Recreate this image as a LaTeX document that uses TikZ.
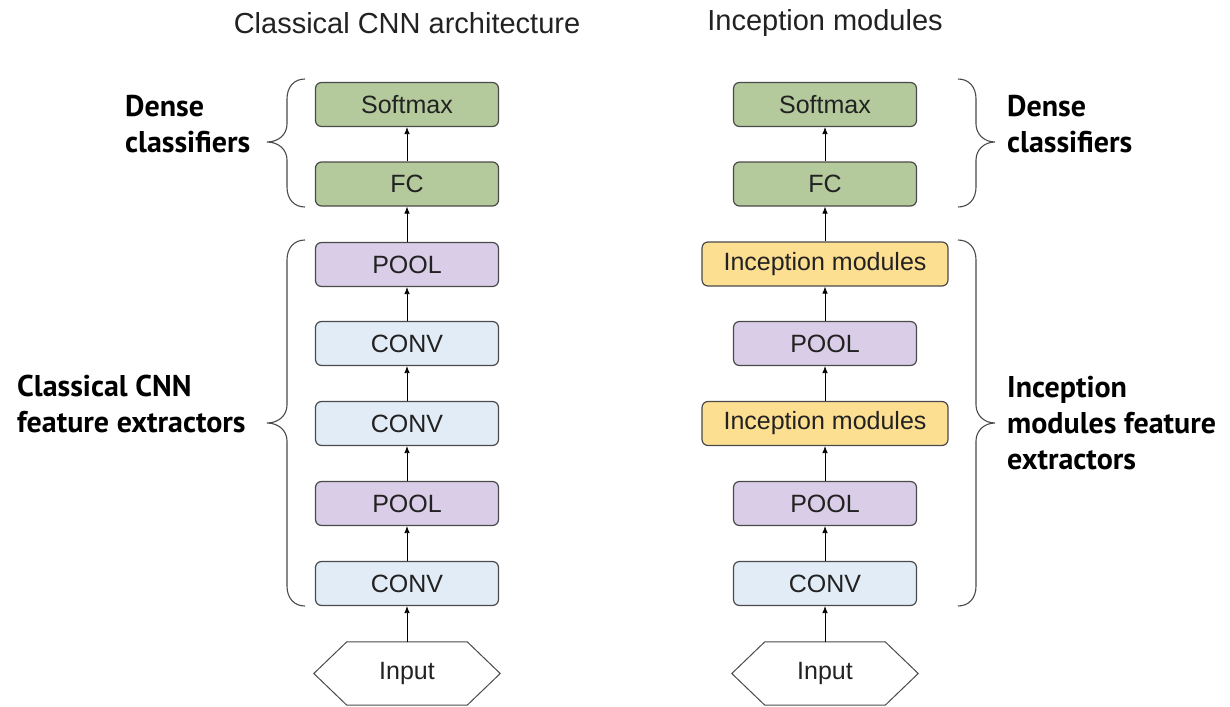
\documentclass[tikz,border=0pt]{standalone}
\usepackage{fontspec}
\setmainfont{Liberation Sans}
\newfontfamily\labfont{PT Sans}
\usetikzlibrary{arrows.meta,calc}
\definecolor{gfill}{HTML}{B4C99C}
\definecolor{pfill}{HTML}{D9CDE7}
\definecolor{bfill}{HTML}{E2ECF6}
\definecolor{yfill}{HTML}{FDDF92}
\definecolor{edge}{HTML}{4A4A4A}
\definecolor{txt}{HTML}{222222}
\tikzset{
  layer/.style={draw=edge,line width=1.2pt,rounded corners=6pt,minimum width=183pt,minimum height=44pt,inner sep=0pt,font=\fontsize{25}{28}\selectfont,text=txt},
  wide/.style={layer,minimum width=246pt},
  green/.style={layer,fill=gfill},
  purple/.style={layer,fill=pfill},
  blue/.style={layer,fill=bfill},
  yellow/.style={wide,fill=yfill},
  flow/.style={-{Latex[length=7pt,width=5.5pt]},line width=0.8pt,black},
  grp/.style={line width=1.1pt,draw=edge},
  lab/.style={font=\labfont\bfseries\fontsize{30}{36}\selectfont,align=left,text=black,inner sep=0pt},
  ttl/.style={font=\fontsize{29}{32}\selectfont,text=txt},
  inp/.style={minimum width=120pt,minimum height=63pt,inner sep=0pt,font=\fontsize{25}{28}\selectfont,text=txt}
}
\begin{document}
\begin{tikzpicture}[x=1pt,y=-1pt]
\useasboundingbox[fill=white] (0,0) rectangle (1230,706);
% titles
\node[ttl] (t1) at (407,23) {Classical CNN architecture};
\node[ttl] (t2) at (825,23) {Inception modules};
% left column
\node[green]  (ls) at (407,104.5) {Softmax};
\node[green]  (lf) at (407,184) {FC};
\node[purple] (lp2) at (407,264.5) {POOL};
\node[blue]   (lc3) at (407,343.5) {CONV};
\node[blue]   (lc2) at (407,423.5) {CONV};
\node[purple] (lp1) at (407,503.5) {POOL};
\node[blue]   (lc1) at (407,583.5) {CONV};
\node[inp]    (li) at (407,673.5) {Input};
\draw[edge,line width=1pt] (li.north west) -- (li.north east) -- ($(li.east)+(33,0)$) -- (li.south east) -- (li.south west) -- ($(li.west)-(33,0)$) -- cycle;
\draw[flow] (li.north) -- (lc1.south);
\draw[flow] (lc1.north) -- (lp1.south);
\draw[flow] (lp1.north) -- (lc2.south);
\draw[flow] (lc2.north) -- (lc3.south);
\draw[flow] (lc3.north) -- (lp2.south);
\draw[flow] (lp2.north) -- (lf.south);
\draw[flow] (lf.north) -- (ls.south);
% right column
\node[green]  (rs) at (825,104.5) {Softmax};
\node[green]  (rf) at (825,184) {FC};
\node[yellow] (ri2) at (825,264) {Inception modules};
\node[purple] (rp2) at (825,343.5) {POOL};
\node[yellow] (ri1) at (825,423.5) {Inception modules};
\node[purple] (rp1) at (825,503.5) {POOL};
\node[blue]   (rc1) at (825,583.5) {CONV};
\node[inp]    (ri) at (825,673.5) {Input};
\draw[edge,line width=1pt] (ri.north west) -- (ri.north east) -- ($(ri.east)+(33,0)$) -- (ri.south east) -- (ri.south west) -- ($(ri.west)-(33,0)$) -- cycle;
\draw[flow] (ri.north) -- (rc1.south);
\draw[flow] (rc1.north) -- (rp1.south);
\draw[flow] (rp1.north) -- (ri1.south);
\draw[flow] (ri1.north) -- (rp2.south);
\draw[flow] (rp2.north) -- (ri2.south);
\draw[flow] (ri2.north) -- (rf.south);
\draw[flow] (rf.north) -- (rs.south);
% braces (left-pointing)
\draw[grp] (305,79) .. controls (294,79) and (287,87) .. (287,99) -- (287,124)
  .. controls (287,134) and (279,142) .. (267,142)
  .. controls (279,142) and (287,150) .. (287,160) -- (287,187)
  .. controls (287,199) and (294,207) .. (305,207);
\draw[grp] (305,240) .. controls (294,240) and (287,248) .. (287,260) -- (287,405)
  .. controls (287,415) and (279,423) .. (267,423)
  .. controls (279,423) and (287,431) .. (287,441) -- (287,586)
  .. controls (287,598) and (294,606) .. (305,606);
% braces (right-pointing)
\draw[grp] (958,79) .. controls (969,79) and (976,87) .. (976,99) -- (976,124)
  .. controls (976,134) and (984,142) .. (995,142)
  .. controls (984,142) and (976,150) .. (976,160) -- (976,187)
  .. controls (976,199) and (969,207) .. (958,207);
\draw[grp] (958,240) .. controls (969,240) and (976,248) .. (976,260) -- (976,405)
  .. controls (976,415) and (984,423) .. (995,423)
  .. controls (984,423) and (976,431) .. (976,441) -- (976,586)
  .. controls (976,598) and (969,606) .. (958,606);
% labels
\node[lab,anchor=west] (ld) at (125,124) {Dense\\classifiers};
\node[lab,anchor=west] (lfe) at (17,404) {Classical CNN\\feature extractors};
\node[lab,anchor=west] (rd) at (1007,124) {Dense\\classifiers};
\node[lab,anchor=west] (rfe) at (1007,423) {Inception\\modules feature\\extractors};
\end{tikzpicture}
\end{document}
